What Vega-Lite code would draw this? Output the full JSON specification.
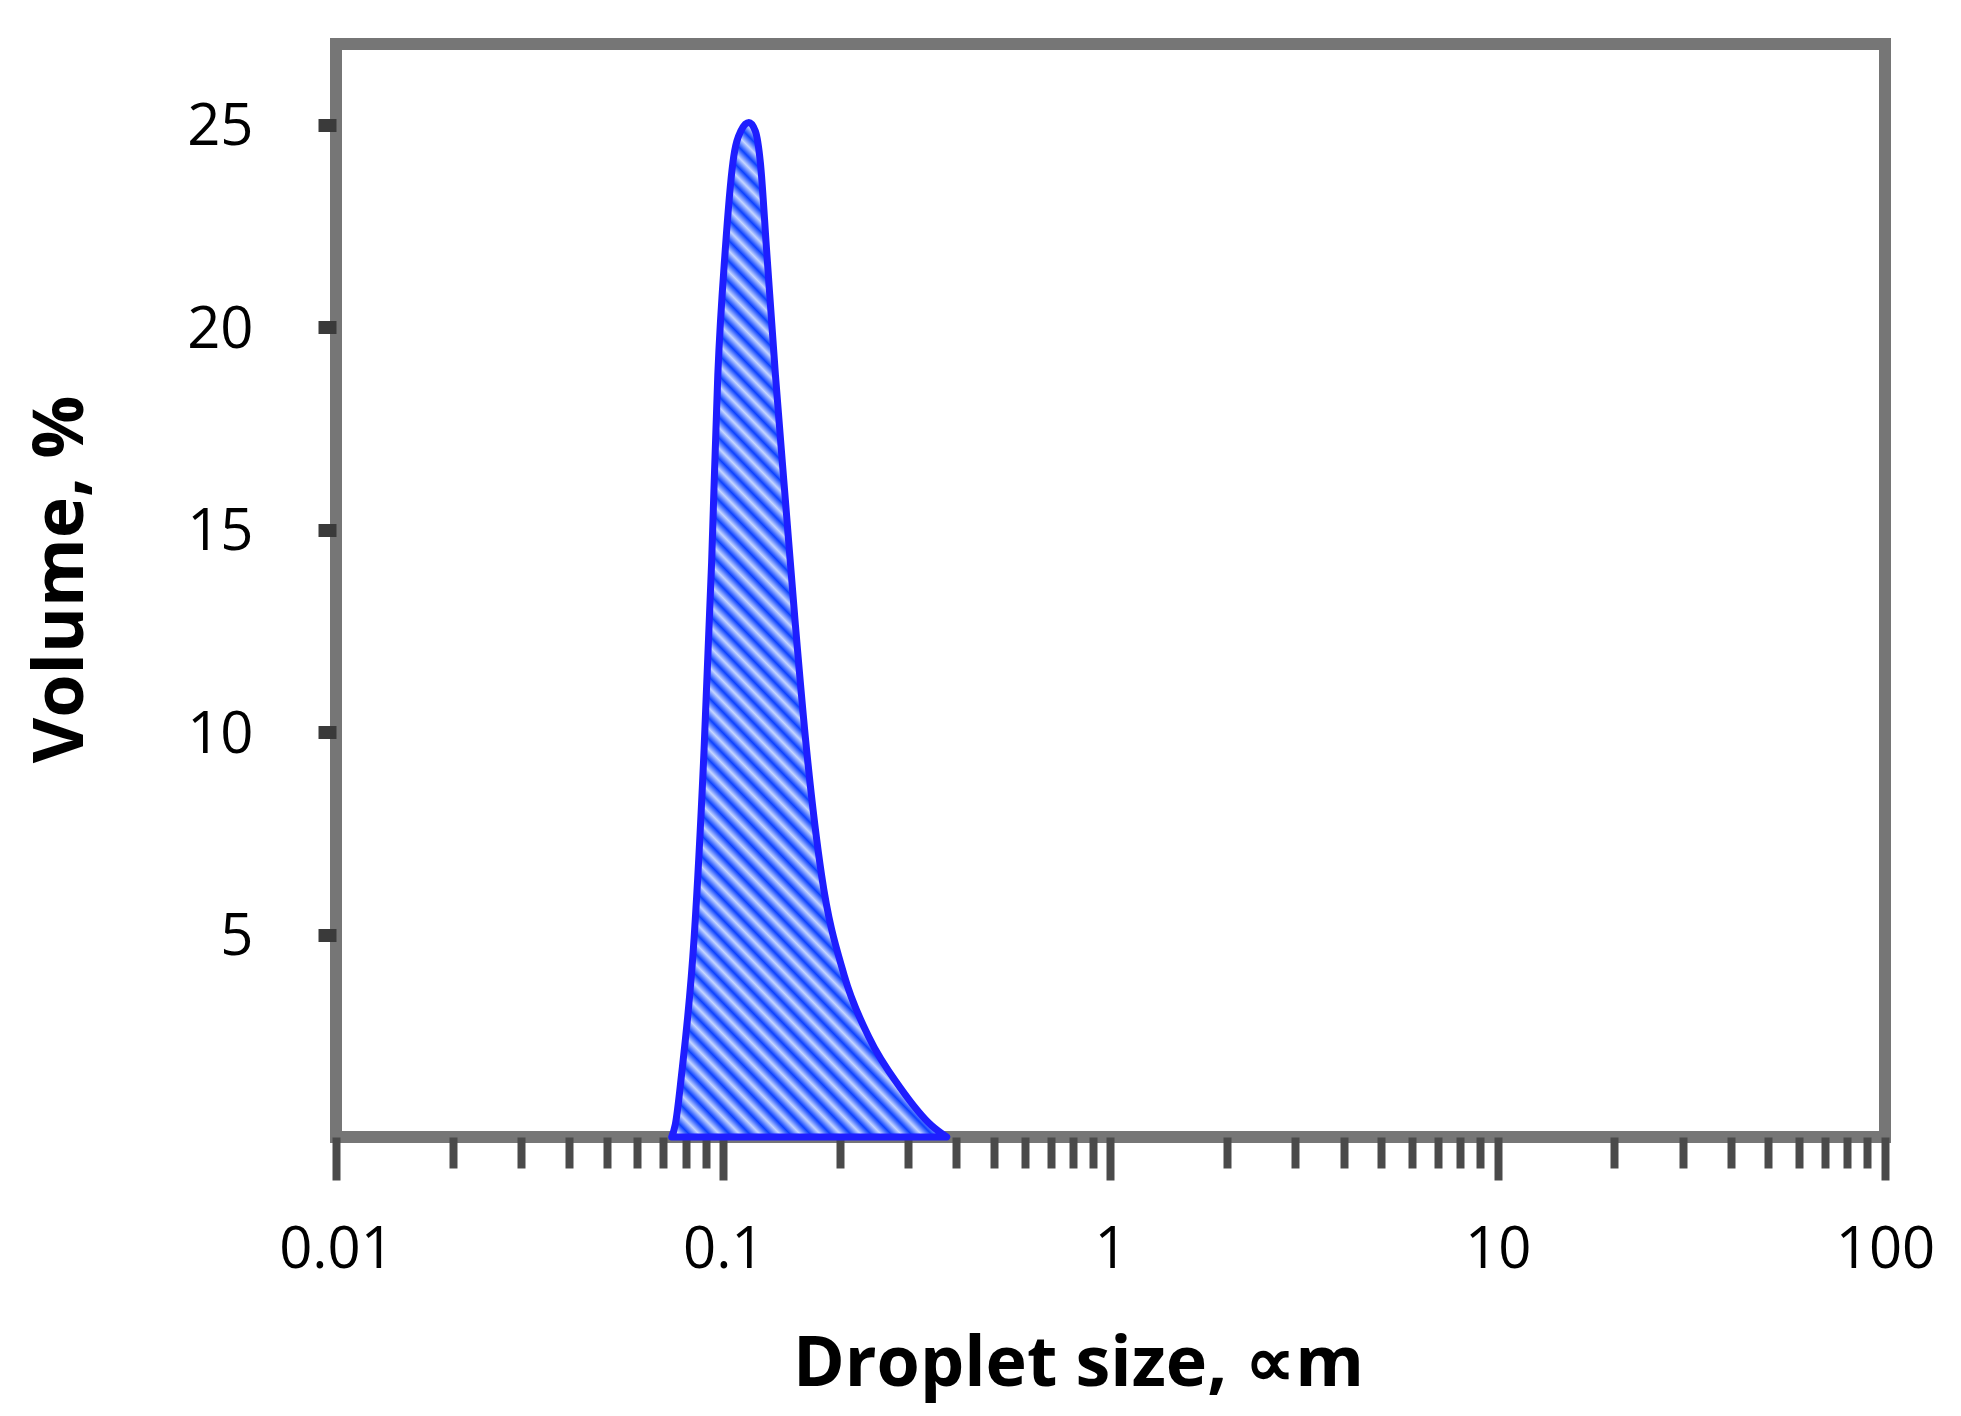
{
  "$schema": "https://vega.github.io/schema/vega-lite/v6.json",
  "width": 1549,
  "height": 1093,
  "autosize": {"type": "none"},
  "padding": {"left": 336, "top": 44, "right": 76, "bottom": 279},
  "background": "white",
  "config": {
    "view": {"stroke": "#767676", "strokeWidth": 12},
    "font": "Open Sans"
  },
  "data": {
    "values": [
      {"size": 0.0736, "volume": 0},
      {"size": 0.0752, "volume": 0.31},
      {"size": 0.0780, "volume": 1.52},
      {"size": 0.0841, "volume": 4.92},
      {"size": 0.0892, "volume": 9.55},
      {"size": 0.0933, "volume": 14.18},
      {"size": 0.0968, "volume": 18.82},
      {"size": 0.1012, "volume": 21.91},
      {"size": 0.1059, "volume": 24.07},
      {"size": 0.1110, "volume": 24.85},
      {"size": 0.1165, "volume": 25.06},
      {"size": 0.1210, "volume": 24.85},
      {"size": 0.1247, "volume": 24.07},
      {"size": 0.1294, "volume": 21.91},
      {"size": 0.1364, "volume": 18.82},
      {"size": 0.1447, "volume": 15.73},
      {"size": 0.1536, "volume": 12.64},
      {"size": 0.1642, "volume": 9.55},
      {"size": 0.1795, "volume": 6.46},
      {"size": 0.2053, "volume": 3.99},
      {"size": 0.2382, "volume": 2.45},
      {"size": 0.2868, "volume": 1.21},
      {"size": 0.3454, "volume": 0.28},
      {"size": 0.3776, "volume": 0}
    ]
  },
  "mark": {
    "type": "area",
    "interpolate": "monotone",
    "stroke": "#1e1eff",
    "strokeWidth": 7,
    "strokeJoin": "round",
    "fill": {
      "gradient": "linear",
      "x1": 0, "y1": 1, "x2": 0.331, "y2": -0.187,
      "stops": [
        {"offset": 0, "color": "#0a40ff"}, {"offset": 0.008, "color": "#c6d6ff"},
        {"offset": 0.016, "color": "#0a40ff"}, {"offset": 0.024, "color": "#c6d6ff"},
        {"offset": 0.032, "color": "#0a40ff"}, {"offset": 0.04, "color": "#c6d6ff"},
        {"offset": 0.048, "color": "#0a40ff"}, {"offset": 0.056, "color": "#c6d6ff"},
        {"offset": 0.064, "color": "#0a40ff"}, {"offset": 0.072, "color": "#c6d6ff"},
        {"offset": 0.08, "color": "#0a40ff"}, {"offset": 0.088, "color": "#c6d6ff"},
        {"offset": 0.096, "color": "#0a40ff"}, {"offset": 0.104, "color": "#c6d6ff"},
        {"offset": 0.112, "color": "#0a40ff"}, {"offset": 0.12, "color": "#c6d6ff"},
        {"offset": 0.128, "color": "#0a40ff"}, {"offset": 0.136, "color": "#c6d6ff"},
        {"offset": 0.144, "color": "#0a40ff"}, {"offset": 0.152, "color": "#c6d6ff"},
        {"offset": 0.16, "color": "#0a40ff"}, {"offset": 0.168, "color": "#c6d6ff"},
        {"offset": 0.176, "color": "#0a40ff"}, {"offset": 0.184, "color": "#c6d6ff"},
        {"offset": 0.192, "color": "#0a40ff"}, {"offset": 0.2, "color": "#c6d6ff"},
        {"offset": 0.208, "color": "#0a40ff"}, {"offset": 0.216, "color": "#c6d6ff"},
        {"offset": 0.224, "color": "#0a40ff"}, {"offset": 0.232, "color": "#c6d6ff"},
        {"offset": 0.24, "color": "#0a40ff"}, {"offset": 0.248, "color": "#c6d6ff"},
        {"offset": 0.256, "color": "#0a40ff"}, {"offset": 0.264, "color": "#c6d6ff"},
        {"offset": 0.272, "color": "#0a40ff"}, {"offset": 0.28, "color": "#c6d6ff"},
        {"offset": 0.288, "color": "#0a40ff"}, {"offset": 0.296, "color": "#c6d6ff"},
        {"offset": 0.304, "color": "#0a40ff"}, {"offset": 0.312, "color": "#c6d6ff"},
        {"offset": 0.32, "color": "#0a40ff"}, {"offset": 0.328, "color": "#c6d6ff"},
        {"offset": 0.336, "color": "#0a40ff"}, {"offset": 0.344, "color": "#c6d6ff"},
        {"offset": 0.352, "color": "#0a40ff"}, {"offset": 0.36, "color": "#c6d6ff"},
        {"offset": 0.368, "color": "#0a40ff"}, {"offset": 0.376, "color": "#c6d6ff"},
        {"offset": 0.384, "color": "#0a40ff"}, {"offset": 0.392, "color": "#c6d6ff"},
        {"offset": 0.4, "color": "#0a40ff"}, {"offset": 0.408, "color": "#c6d6ff"},
        {"offset": 0.416, "color": "#0a40ff"}, {"offset": 0.424, "color": "#c6d6ff"},
        {"offset": 0.432, "color": "#0a40ff"}, {"offset": 0.44, "color": "#c6d6ff"},
        {"offset": 0.448, "color": "#0a40ff"}, {"offset": 0.456, "color": "#c6d6ff"},
        {"offset": 0.464, "color": "#0a40ff"}, {"offset": 0.472, "color": "#c6d6ff"},
        {"offset": 0.48, "color": "#0a40ff"}, {"offset": 0.488, "color": "#c6d6ff"},
        {"offset": 0.496, "color": "#0a40ff"}, {"offset": 0.504, "color": "#c6d6ff"},
        {"offset": 0.512, "color": "#0a40ff"}, {"offset": 0.52, "color": "#c6d6ff"},
        {"offset": 0.528, "color": "#0a40ff"}, {"offset": 0.536, "color": "#c6d6ff"},
        {"offset": 0.544, "color": "#0a40ff"}, {"offset": 0.552, "color": "#c6d6ff"},
        {"offset": 0.56, "color": "#0a40ff"}, {"offset": 0.568, "color": "#c6d6ff"},
        {"offset": 0.576, "color": "#0a40ff"}, {"offset": 0.584, "color": "#c6d6ff"},
        {"offset": 0.592, "color": "#0a40ff"}, {"offset": 0.6, "color": "#c6d6ff"},
        {"offset": 0.608, "color": "#0a40ff"}, {"offset": 0.616, "color": "#c6d6ff"},
        {"offset": 0.624, "color": "#0a40ff"}, {"offset": 0.632, "color": "#c6d6ff"},
        {"offset": 0.64, "color": "#0a40ff"}, {"offset": 0.648, "color": "#c6d6ff"},
        {"offset": 0.656, "color": "#0a40ff"}, {"offset": 0.664, "color": "#c6d6ff"},
        {"offset": 0.672, "color": "#0a40ff"}, {"offset": 0.68, "color": "#c6d6ff"},
        {"offset": 0.688, "color": "#0a40ff"}, {"offset": 0.696, "color": "#c6d6ff"},
        {"offset": 0.704, "color": "#0a40ff"}, {"offset": 0.712, "color": "#c6d6ff"},
        {"offset": 0.72, "color": "#0a40ff"}, {"offset": 0.728, "color": "#c6d6ff"},
        {"offset": 0.736, "color": "#0a40ff"}, {"offset": 0.744, "color": "#c6d6ff"},
        {"offset": 0.752, "color": "#0a40ff"}, {"offset": 0.76, "color": "#c6d6ff"},
        {"offset": 0.768, "color": "#0a40ff"}, {"offset": 0.776, "color": "#c6d6ff"},
        {"offset": 0.784, "color": "#0a40ff"}, {"offset": 0.792, "color": "#c6d6ff"},
        {"offset": 0.8, "color": "#0a40ff"}, {"offset": 0.808, "color": "#c6d6ff"},
        {"offset": 0.816, "color": "#0a40ff"}, {"offset": 0.824, "color": "#c6d6ff"},
        {"offset": 0.832, "color": "#0a40ff"}, {"offset": 0.84, "color": "#c6d6ff"},
        {"offset": 0.848, "color": "#0a40ff"}, {"offset": 0.856, "color": "#c6d6ff"},
        {"offset": 0.864, "color": "#0a40ff"}, {"offset": 0.872, "color": "#c6d6ff"},
        {"offset": 0.88, "color": "#0a40ff"}, {"offset": 0.888, "color": "#c6d6ff"},
        {"offset": 0.896, "color": "#0a40ff"}, {"offset": 0.904, "color": "#c6d6ff"},
        {"offset": 0.912, "color": "#0a40ff"}, {"offset": 0.92, "color": "#c6d6ff"},
        {"offset": 0.928, "color": "#0a40ff"}, {"offset": 0.936, "color": "#c6d6ff"},
        {"offset": 0.944, "color": "#0a40ff"}, {"offset": 0.952, "color": "#c6d6ff"},
        {"offset": 0.96, "color": "#0a40ff"}, {"offset": 0.968, "color": "#c6d6ff"},
        {"offset": 0.976, "color": "#0a40ff"}, {"offset": 0.984, "color": "#c6d6ff"},
        {"offset": 0.992, "color": "#0a40ff"}, {"offset": 1, "color": "#c6d6ff"}
      ]
    }
  },
  "encoding": {
    "x": {
      "field": "size",
      "type": "quantitative",
      "scale": {"type": "log", "domain": [0.01, 100], "nice": false},
      "axis": {
        "title": "Droplet size, ∝m",
        "values": [0.01, 0.02, 0.03, 0.04, 0.05, 0.06, 0.07, 0.08, 0.09,
                   0.1, 0.2, 0.3, 0.4, 0.5, 0.6, 0.7, 0.8, 0.9,
                   1, 2, 3, 4, 5, 6, 7, 8, 9,
                   10, 20, 30, 40, 50, 60, 70, 80, 90, 100],
        "format": "~g",
        "labelExpr": "abs(log(datum.value)/LN10 - round(log(datum.value)/LN10)) < 0.000001 ? datum.label : ''",
        "domain": false,
        "grid": false,
        "ticks": true,
        "tickColor": "#4a4a4a",
        "tickWidth": 8,
        "tickSize": {"condition": {"test": "abs(log(datum.value)/LN10 - round(log(datum.value)/LN10)) < 0.000001", "value": 43}, "value": 31},
        "labelFont": "Open Sans",
        "labelFontSize": 58,
        "labelColor": "#000000",
        "labelBaseline": "alphabetic",
        "labelPadding": 87,
        "labelOverlap": false,
        "labelFlush": false,
        "titleFont": "Open Sans",
        "titleFontWeight": "bold",
        "titleFontSize": 70,
        "titleColor": "#000000",
        "titleAlign": "center",
        "titleBaseline": "alphabetic",
        "titleX": 742,
        "titleY": 248
      }
    },
    "y": {
      "field": "volume",
      "type": "quantitative",
      "scale": {"domain": [0, 27], "nice": false, "zero": true},
      "axis": {
        "title": "Volume, %",
        "values": [5, 10, 15, 20, 25],
        "domain": false,
        "grid": false,
        "tickColor": "#3a3a3a",
        "tickWidth": 13,
        "tickSize": 18,
        "labelFont": "Open Sans",
        "labelFontSize": 58,
        "labelColor": "#000000",
        "labelPadding": 65,
        "labelOffset": 3,
        "titleFont": "Open Sans",
        "titleFontWeight": "bold",
        "titleFontSize": 70,
        "titleColor": "#000000",
        "titleAlign": "center",
        "titleAngle": 270,
        "titleBaseline": "alphabetic",
        "titleX": -254,
        "titleY": 535
      }
    }
  }
}
